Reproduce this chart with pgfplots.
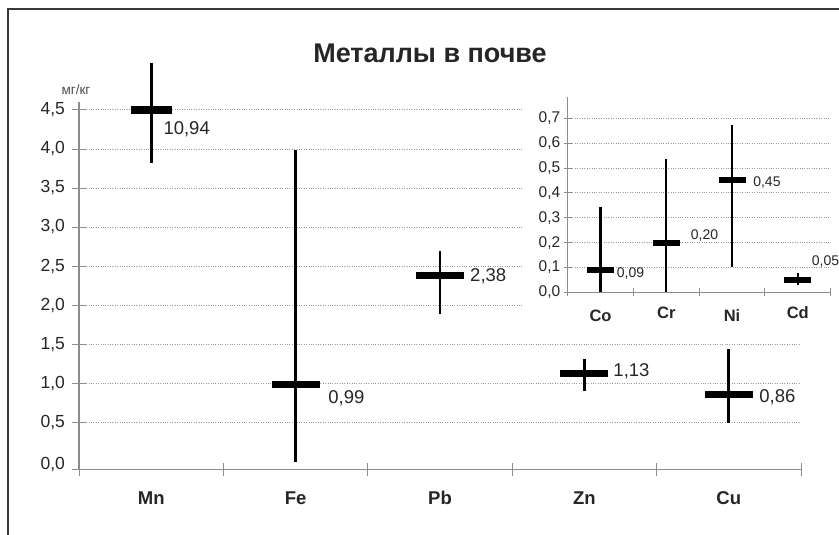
\documentclass[border=0pt]{standalone}
\usepackage{fontspec}
\setmainfont{Liberation Sans}
\usepackage{pgfplots}
\pgfplotsset{compat=1.18}
\definecolor{axgray}{HTML}{8C8C8C}
\definecolor{txt}{HTML}{262626}
\definecolor{grd}{HTML}{9A9A9A}
\begin{document}
\begin{tikzpicture}[x=1bp,y=1bp]
\path[use as bounding box] (0bp,0bp) rectangle (839bp,535bp);
\fill[white] (0bp,0bp) rectangle (839bp,535bp);
\draw[line width=2bp, color=black!78] (8bp,0bp) -- (8bp,525.5bp) -- (839bp,525.5bp);
\node[font=\fontsize{27bp}{31bp}\selectfont\bfseries, text=txt] at (430bp,482bp) {Металлы в почве};
\node[font=\fontsize{13.5bp}{16bp}\selectfont, text=black!70] at (76bp,445.7bp) {мг/кг};

\begin{axis}[at={(79bp,65.4bp)}, anchor=south west, scale only axis,
  width=722bp, height=367.5bp,
  xmin=0.5, xmax=5.5, ymin=-0.1, ymax=4.6, clip=false,
  axis x line*=bottom, axis y line*=left,
  axis line style={axgray, line width=1.2bp},
  tick style={axgray, line width=1bp},
  tick align=center, major tick length=13bp,
  /pgf/number format/assume math mode=true,
  ytick={-0.1,0.5,1,1.5,2,2.5,3,3.5,4,4.5},
  yticklabels={\raisebox{5bp}{0,0},{0,5},{1,0},{1,5},{2,0},{2,5},{3,0},{3,5},{4,0},{4,5}},
  yticklabel style={font=\fontsize{17.5bp}{20bp}\selectfont, text=txt, text height=12.5bp, text depth=3bp, xshift=-4bp},
  ymajorgrids, grid style={grd, dotted, line width=1bp},
  xtick={0.5,1.5,2.5,3.5,4.5,5.5},
  x tick label as interval,
  xticklabels={Mn,Fe,Pb,Zn,Cu},
  xticklabel style={font=\fontsize{18.5bp}{21bp}\selectfont\bfseries, text=txt, text height=13bp, text depth=3bp, yshift=-12bp},
]
\addplot[only marks, mark=-, mark size=20.5bp, mark options={line width=8bp, black},
  error bars/.cd, y dir=both, y explicit, error mark=none,
  error bar style={line width=2.8bp, black}]
  table[x=x, y=y, y error plus=ep, y error minus=em] {
x y ep em
1 4.50 0.60 0.68
};
\addplot[only marks, mark=-, mark size=24bp, mark options={line width=7.5bp, black},
  error bars/.cd, y dir=both, y explicit, error mark=none,
  error bar style={line width=2.8bp, black}]
  table[x=x, y=y, y error plus=ep, y error minus=em] {
x y ep em
2 0.99 3.00 0.99
3 2.38 0.31 0.49
4 1.13 0.19 0.23
5 0.86 0.58 0.36
};
\begin{scope}[font=\fontsize{18.5bp}{21bp}\selectfont, text=txt]
\node[anchor=west, inner sep=0pt] at (axis cs:1.084,4.25) {10,94};
\node[anchor=west, inner sep=0pt] at (axis cs:2.226,0.81) {0,99};
\node[anchor=west, inner sep=0pt] at (axis cs:3.208,2.37) {2,38};
\node[anchor=west, inner sep=0pt] at (axis cs:4.20,1.16) {1,13};
\node[anchor=west, inner sep=0pt] at (axis cs:5.21,0.83) {0,86};
\end{scope}
\end{axis}

\fill[white] (522bp,199bp) rectangle (839bp,455bp);

\begin{axis}[at={(567.7bp,242.7bp)}, anchor=south west, scale only axis,
  width=263bp, height=195.6bp,
  xmin=0.5, xmax=4.5, ymin=0, ymax=0.787, clip=false,
  axis x line*=bottom, axis y line*=left,
  axis line style={axgray, line width=1.2bp},
  tick style={axgray, line width=1bp},
  tick align=center, major tick length=8bp,
  /pgf/number format/assume math mode=true,
  ytick={0,0.1,0.2,0.3,0.4,0.5,0.6,0.7},
  yticklabels={{0,0},{0,1},{0,2},{0,3},{0,4},{0,5},{0,6},{0,7}},
  yticklabel style={font=\fontsize{15.5bp}{18bp}\selectfont, text=txt},
  ymajorgrids, grid style={grd, dotted, line width=1bp},
  xtick={0.5,1.5,2.5,3.5,4.5},
  x tick label as interval,
  xticklabels={Co,\raisebox{3.5bp}{Cr},Ni,\raisebox{3.5bp}{Cd}},
  xticklabel style={font=\fontsize{16.5bp}{19bp}\selectfont\bfseries, text=txt, text height=12bp, text depth=3bp, yshift=-10bp},
]
\addplot[only marks, mark=-, mark size=13.5bp, mark options={line width=6bp, black},
  error bars/.cd, y dir=both, y explicit, error mark=none,
  error bar style={line width=2.2bp, black}]
  table[x=x, y=y, y error plus=ep, y error minus=em] {
x y ep em
1 0.09 0.252 0.09
2 0.20 0.335 0.20
3 0.45 0.222 0.347
4 0.05 0.026 0.021
};
\begin{scope}[font=\fontsize{14bp}{17bp}\selectfont, text=txt]
\node[anchor=west, inner sep=0pt] at (axis cs:1.245,0.076) {0,09};
\node[anchor=west, inner sep=0pt] at (axis cs:2.37,0.23) {0,20};
\node[anchor=west, inner sep=0pt] at (axis cs:3.32,0.44) {0,45};
\node[anchor=west, inner sep=0pt] at (axis cs:4.21,0.123) {0,05};
\end{scope}
\end{axis}
\end{tikzpicture}
\end{document}
